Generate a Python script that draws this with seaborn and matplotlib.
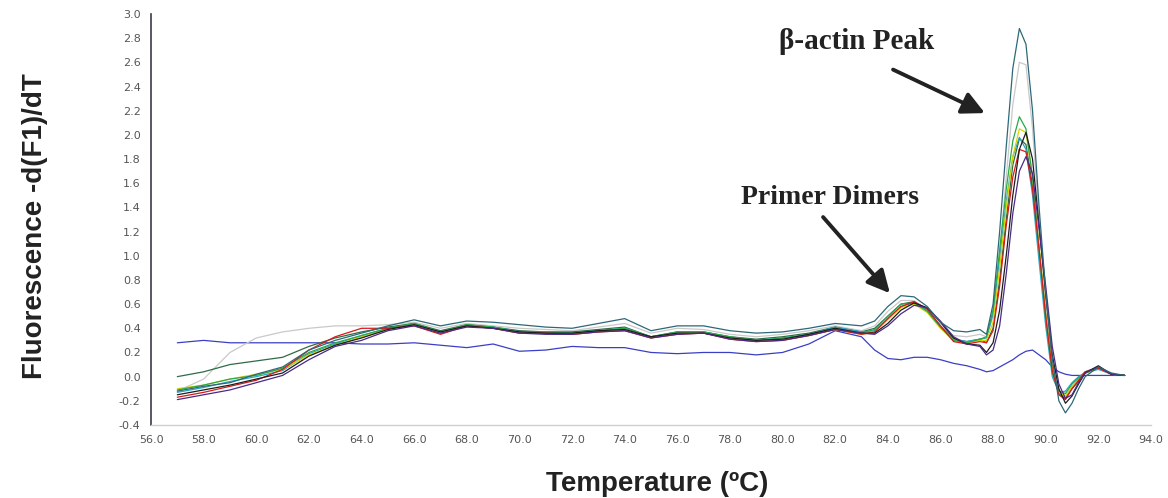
import pandas as pd
import matplotlib

matplotlib.use("Agg")
import matplotlib.pyplot as plt
import seaborn as sns

# Temperature grid (degC), finer around the melt peak
temps = [57, 58, 59, 60, 61, 62, 63, 64, 65, 66, 67, 68, 69, 70, 71, 72, 73, 74, 75,
         76, 77, 78, 79, 80, 81, 82, 83, 83.5, 84, 84.5, 85, 85.5, 86, 86.5, 87, 87.5,
         87.75, 88, 88.25, 88.5, 88.75, 89, 89.25, 89.5, 89.75, 90, 90.25, 90.5, 90.75,
         91, 91.25, 91.5, 92, 92.5, 93]

# -d(F1)/dT for each well
ntc = [0.28, 0.30, 0.28, 0.28, 0.28, 0.28, 0.28, 0.27, 0.27, 0.28, 0.26, 0.24, 0.27, 0.21,
       0.22, 0.25, 0.24, 0.24, 0.20, 0.19, 0.20, 0.20, 0.18, 0.20, 0.27, 0.38, 0.33, 0.22,
       0.15, 0.14, 0.16, 0.16, 0.14, 0.11, 0.09, 0.06, 0.04, 0.05, 0.08, 0.11, 0.14, 0.18,
       0.21, 0.22, 0.18, 0.14, 0.08, 0.04, 0.02, 0.01, 0.01, 0.01, 0.01, 0.01, 0.01]
teal = [-0.12, -0.08, -0.05, 0.02, 0.08, 0.22, 0.30, 0.36, 0.42, 0.47, 0.42, 0.46, 0.45, 0.43,
        0.41, 0.40, 0.44, 0.48, 0.38, 0.42, 0.42, 0.38, 0.36, 0.37, 0.40, 0.44, 0.42, 0.46,
        0.58, 0.67, 0.66, 0.58, 0.45, 0.38, 0.37, 0.39, 0.35, 0.60, 1.20, 1.90, 2.55, 2.88,
        2.75, 2.20, 1.40, 0.70, 0.15, -0.20, -0.30, -0.22, -0.10, 0.00, 0.08, 0.03, 0.01]
gray = [-0.12, -0.02, 0.20, 0.32, 0.37, 0.40, 0.42, 0.42, 0.43, 0.45, 0.40, 0.44, 0.42, 0.40,
        0.39, 0.38, 0.41, 0.44, 0.36, 0.40, 0.39, 0.35, 0.33, 0.35, 0.38, 0.42, 0.38, 0.42,
        0.54, 0.63, 0.63, 0.55, 0.42, 0.34, 0.33, 0.35, 0.33, 0.50, 1.00, 1.65, 2.25, 2.60,
        2.58, 2.05, 1.30, 0.62, 0.12, -0.12, -0.16, -0.08, -0.02, 0.04, 0.08, 0.02, 0.01]
dkgreen = [0.00, 0.04, 0.10, 0.13, 0.16, 0.25, 0.32, 0.37, 0.41, 0.44, 0.38, 0.43, 0.41, 0.38,
           0.37, 0.37, 0.39, 0.41, 0.33, 0.37, 0.37, 0.33, 0.31, 0.33, 0.36, 0.41, 0.37, 0.40,
           0.50, 0.60, 0.62, 0.55, 0.42, 0.31, 0.29, 0.31, 0.28, 0.40, 0.80, 1.30, 1.75, 1.97,
           1.92, 1.58, 1.05, 0.52, 0.08, -0.14, -0.18, -0.10, -0.04, 0.03, 0.07, 0.02, 0.01]
green = [-0.11, -0.07, -0.02, 0.01, 0.07, 0.20, 0.28, 0.34, 0.40, 0.44, 0.37, 0.43, 0.41, 0.37,
         0.37, 0.36, 0.38, 0.40, 0.33, 0.37, 0.37, 0.33, 0.30, 0.32, 0.35, 0.40, 0.36, 0.39,
         0.50, 0.60, 0.61, 0.54, 0.41, 0.30, 0.28, 0.31, 0.33, 0.55, 1.05, 1.55, 1.95, 2.15,
         2.05, 1.65, 1.05, 0.48, 0.03, -0.12, -0.14, -0.06, -0.01, 0.04, 0.08, 0.02, 0.01]
yellow = [-0.10, -0.07, -0.02, 0.02, 0.06, 0.18, 0.26, 0.33, 0.39, 0.43, 0.36, 0.42, 0.40, 0.36,
          0.36, 0.35, 0.37, 0.39, 0.32, 0.36, 0.36, 0.32, 0.30, 0.31, 0.34, 0.39, 0.35, 0.37,
          0.47, 0.57, 0.60, 0.53, 0.40, 0.30, 0.28, 0.30, 0.30, 0.45, 0.90, 1.40, 1.82, 2.05,
          2.02, 1.65, 1.08, 0.52, 0.06, -0.13, -0.16, -0.08, -0.02, 0.03, 0.07, 0.02, 0.01]
cyan = [-0.13, -0.09, -0.04, 0.00, 0.05, 0.19, 0.27, 0.34, 0.40, 0.43, 0.37, 0.42, 0.41, 0.37,
        0.36, 0.36, 0.38, 0.40, 0.33, 0.36, 0.37, 0.32, 0.30, 0.32, 0.35, 0.41, 0.37, 0.38,
        0.48, 0.58, 0.61, 0.55, 0.42, 0.31, 0.29, 0.31, 0.32, 0.52, 0.98, 1.45, 1.82, 1.98,
        1.88, 1.50, 0.95, 0.42, 0.00, -0.13, -0.12, -0.05, 0.00, 0.03, 0.06, 0.02, 0.01]
red = [-0.17, -0.13, -0.08, -0.03, 0.06, 0.22, 0.33, 0.40, 0.40, 0.42, 0.35, 0.42, 0.40, 0.36,
       0.36, 0.35, 0.37, 0.38, 0.32, 0.35, 0.36, 0.31, 0.29, 0.30, 0.34, 0.39, 0.35, 0.37,
       0.48, 0.58, 0.62, 0.56, 0.42, 0.29, 0.27, 0.29, 0.28, 0.38, 0.75, 1.25, 1.65, 1.88,
       1.86, 1.55, 1.05, 0.50, 0.05, -0.15, -0.19, -0.10, -0.03, 0.04, 0.07, 0.02, 0.01]
black = [-0.15, -0.11, -0.07, -0.02, 0.03, 0.17, 0.26, 0.32, 0.39, 0.43, 0.37, 0.42, 0.40, 0.37,
         0.36, 0.36, 0.38, 0.39, 0.33, 0.36, 0.36, 0.32, 0.30, 0.31, 0.35, 0.40, 0.36, 0.36,
         0.44, 0.55, 0.61, 0.57, 0.45, 0.32, 0.27, 0.26, 0.20, 0.28, 0.55, 1.00, 1.50, 1.88,
         2.02, 1.80, 1.25, 0.68, 0.18, -0.10, -0.22, -0.16, -0.06, 0.03, 0.09, 0.02, 0.01]
purple = [-0.19, -0.15, -0.11, -0.05, 0.01, 0.14, 0.25, 0.30, 0.38, 0.42, 0.36, 0.41, 0.40, 0.36,
          0.35, 0.35, 0.37, 0.38, 0.32, 0.35, 0.36, 0.31, 0.29, 0.30, 0.34, 0.39, 0.36, 0.35,
          0.42, 0.52, 0.59, 0.57, 0.46, 0.33, 0.27, 0.25, 0.18, 0.22, 0.42, 0.85, 1.35, 1.70,
          1.82, 1.68, 1.22, 0.75, 0.25, -0.06, -0.18, -0.15, -0.05, 0.03, 0.08, 0.02, 0.01]

wells = {"ntc": ntc, "gray": gray, "dkgreen": dkgreen, "cyan": cyan, "yellow": yellow,
         "green": green, "red": red, "black": black, "purple": purple, "teal": teal}
colors = {"ntc": "#3b3fc4", "gray": "#c9c9c9", "dkgreen": "#2f6b45", "cyan": "#2aa5c8",
          "yellow": "#d9d400", "green": "#2aa84a", "red": "#d81a1a", "black": "#1c1c1c",
          "purple": "#4b2a86", "teal": "#2d6878"}

x_ticks = [56 + 2 * i for i in range(20)]
y_ticks = [round(-0.4 + 0.2 * i, 1) for i in range(18)]

df = pd.concat(
    [pd.DataFrame({"temp": temps, "val": v, "well": k}) for k, v in wells.items()],
    ignore_index=True,
)

sns.set_style("white")
plt.rcParams["font.family"] = ["DejaVu Sans"]

fig = plt.figure(figsize=(11.68, 4.98), dpi=100)
ax = fig.add_axes([0.1293, 0.1466, 0.8561, 0.8253])

sns.lineplot(data=df, x="temp", y="val", hue="well", palette=colors,
             estimator=None, sort=False, linewidth=0.9, legend=False, ax=ax)

ax.set_xlim(56, 94)
ax.set_ylim(-0.4, 3.0)
ax.set_xticks(x_ticks)
ax.set_xticklabels([f"{t:.1f}" for t in x_ticks])
ax.set_yticks(y_ticks)
ax.set_yticklabels([f"{t:.1f}" for t in y_ticks])
ax.tick_params(axis="both", direction="out", length=4, width=0.8, color="#555555",
               labelsize=8, labelcolor="#555555")
ax.tick_params(axis="x", pad=3)

sns.despine(ax=ax)
ax.spines["left"].set_color("#3a3a4a")
ax.spines["left"].set_linewidth(1.2)
ax.spines["bottom"].set_color("#d0d0d0")
ax.spines["bottom"].set_linewidth(1.0)

ax.set_xlabel("Temperature (\u00baC)", fontsize=20, fontweight="bold",
              family="Liberation Sans", color="#222222")
ax.set_ylabel("Fluorescence -d(F1)/dT", fontsize=20, fontweight="bold",
              family="Liberation Sans", color="#222222")
ax.xaxis.set_label_coords(0.506, -0.112)
ax.yaxis.set_label_coords(-0.103, 0.484)

# annotations
arrow = dict(arrowstyle="-|>", color="#222222", lw=2.8, mutation_scale=34,
             shrinkA=0, shrinkB=0)
ax.annotate("", xy=(87.69, 2.18), xytext=(84.2, 2.54), arrowprops=arrow)
ax.annotate("", xy=(84.08, 0.69), xytext=(81.54, 1.32), arrowprops=arrow)
ax.text(82.8, 2.77, "\u03b2-actin Peak", fontsize=21, fontweight="bold",
        family="Liberation Serif", color="#222222", ha="center", va="center")
ax.text(81.8, 1.48, "Primer Dimers", fontsize=20, fontweight="bold",
        family="Liberation Serif", color="#222222", ha="center", va="center")

fig.savefig("out.png", dpi=100, facecolor="white")
